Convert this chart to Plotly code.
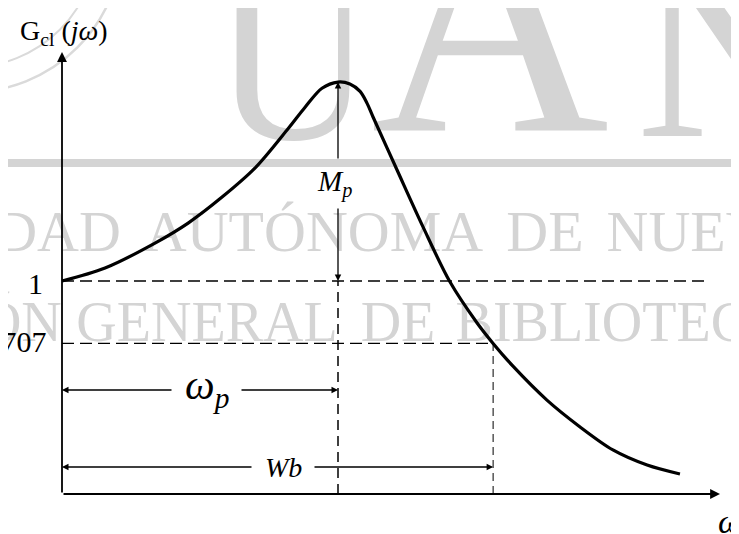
import plotly.graph_objects as go

# ---- data (x: omega / omega_p, y: |Gcl(jw)|) ----
omega = [0.0, 0.156, 0.337, 0.457, 0.580, 0.699, 0.819, 0.880, 0.942, 1.0,
         1.043, 1.080, 1.105, 1.127, 1.214, 1.308, 1.406, 1.504, 1.562,
         1.634, 1.757, 1.877, 1.996, 2.120, 2.239]
gain = [1.0, 1.061, 1.178, 1.272, 1.394, 1.530, 1.715, 1.815, 1.905, 1.934,
        1.925, 1.890, 1.835, 1.770, 1.521, 1.254, 0.995, 0.803, 0.707,
        0.600, 0.441, 0.315, 0.207, 0.136, 0.094]
ref_levels = [1.0, 0.707]
ref_labels = ["1", ".707"]
omega_p = 1.0
omega_b = 1.562
Mp = 1.934

# page-pixel -> data helpers (layout placement only)
OFF = 8  # default body margin of the html page
def X(px):
    return (px - 62) / 276.0
def Y(py):
    return (494 - py) / 213.0

SERIF = "Liberation Serif, Times New Roman, serif"
WM = "#d4d4d4"

fig = go.Figure()

def wm_text(px, py, txt, size):
    fig.add_trace(go.Scatter(x=[X(px)], y=[Y(py)], mode="text", text=[txt],
                             textfont=dict(family=SERIF, size=size, color=WM),
                             cliponaxis=False, hoverinfo="skip", showlegend=False))

# watermark (drawn first, so under everything)
wm_text(293, 84, "U", 220)
wm_text(490, 48, "A", 330)
wm_text(730, 71, "N", 260)
wm_text(58, 236, "DAD", 58)
wm_text(314, 236, "AUTÓNOMA", 58)
wm_text(545, 236, "DE", 58)
wm_text(708, 236, "NUEVO", 58)
wm_text(12, 327, "IÓN", 56)
wm_text(207, 327, "GENERAL", 56)
wm_text(398, 327, "DE", 56)
wm_text(622, 327, "BIBLIOTECA", 56)

# main curve
fig.add_trace(go.Scatter(x=omega, y=gain, mode="lines",
                         line=dict(color="black", width=3.2, shape="spline", smoothing=0.9),
                         hoverinfo="skip", showlegend=False))

shapes = []
# watermark bar and seal arcs
shapes.append(dict(type="rect", xref="x", yref="y", x0=X(0), x1=X(745), y0=Y(167), y1=Y(159),
                   fillcolor=WM, line=dict(width=0), layer="below"))
shapes.append(dict(type="circle", x0=X(-182), x1=X(122), y0=Y(92), y1=Y(-212),
                   line=dict(color="#dadada", width=2.5), layer="below"))
shapes.append(dict(type="circle", x0=X(-157), x1=X(97), y0=Y(67), y1=Y(-187),
                   line=dict(color="#dadada", width=2), layer="below"))
# dashed reference lines
dash_h = "12px,6px"
shapes.append(dict(type="line", x0=0, x1=X(710), y0=ref_levels[0], y1=ref_levels[0],
                   line=dict(color="black", width=1.4, dash=dash_h)))
shapes.append(dict(type="line", x0=0, x1=omega_b, y0=ref_levels[1], y1=ref_levels[1],
                   line=dict(color="black", width=1.4, dash=dash_h)))
shapes.append(dict(type="line", x0=omega_p, x1=omega_p, y0=0, y1=ref_levels[0],
                   line=dict(color="black", width=1.5, dash="10px,6px")))
shapes.append(dict(type="line", x0=omega_b, x1=omega_b, y0=0, y1=ref_levels[1],
                   line=dict(color="black", width=1.0, dash="8px,5px")))
fig.update_layout(shapes=shapes)

ann = []
def arrow(xh, yh, xt, yt, w=1.3, head=2, size=1.0):
    ann.append(dict(x=xh, y=yh, ax=xt, ay=yt, xref="x", yref="y", axref="x", ayref="y",
                    text="", showarrow=True, arrowhead=head, arrowsize=size,
                    arrowwidth=w, arrowcolor="black", standoff=0, startstandoff=0))

# axes
arrow(X(720), 0, 0, 0, w=1.8, size=1.1)
arrow(0, Y(52), 0, 0, w=1.8, size=1.1)
# Mp double arrow
arrow(omega_p, Mp, omega_p, Y(160))
arrow(omega_p, ref_levels[0], omega_p, Y(207))
# omega_p double arrow
arrow(0, Y(390), X(173), Y(390))
arrow(omega_p, Y(390), X(240), Y(390))
# Wb double arrow
arrow(0, Y(467), X(253), Y(467))
arrow(omega_b, Y(467), X(313), Y(467))

def label(px, py, text, size, xanchor="center"):
    ann.append(dict(x=X(px), y=Y(py), xref="x", yref="y", text=text, showarrow=False,
                    xanchor=xanchor, yanchor="middle",
                    font=dict(family=SERIF, size=size, color="black")))

label(64, 32, "G<sub>cl</sub> (<i>jω</i>)", 28)
label(45, 283, ref_labels[0], 30, xanchor="right")
label(49, 341, ref_labels[1], 30, xanchor="right")
label(334, 183, "<i>M<sub>p</sub></i>", 29)
label(207, 388, "<i>ω<sub>p</sub></i>", 42)
label(283, 467, "<i>Wb</i>", 28)
label(716, 521, "<i>ω</i>", 34, xanchor="left")
fig.update_layout(annotations=ann)

fig.update_layout(
    width=739 - OFF, height=534 - OFF,
    margin=dict(l=0, r=0, t=0, b=0, pad=0),
    paper_bgcolor="white", plot_bgcolor="white",
    xaxis=dict(range=[X(OFF), X(739)], visible=False, fixedrange=True),
    yaxis=dict(range=[Y(534), Y(OFF)], visible=False, fixedrange=True),
    showlegend=False,
)

fig.write_html("out.html")
